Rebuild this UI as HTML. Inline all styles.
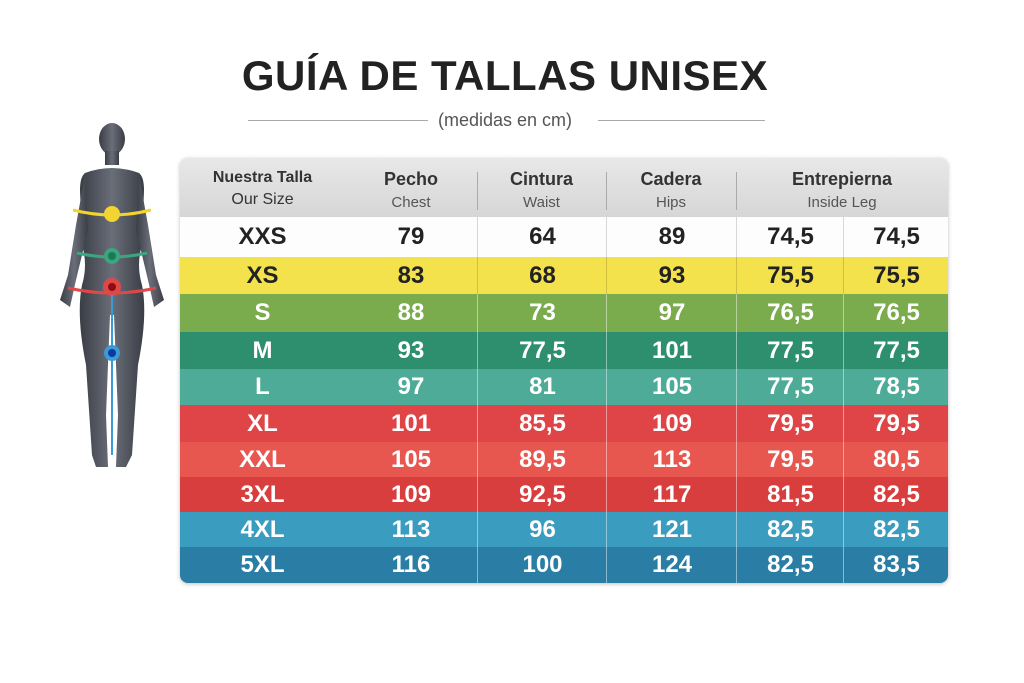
<!DOCTYPE html>
<html><head><meta charset="utf-8"><style>
body{margin:0;width:1024px;height:683px;background:#fff;position:relative;overflow:hidden;font-family:"Liberation Sans",sans-serif}
.title{position:absolute;left:0;width:1010px;top:52px;text-align:center;font-weight:bold;font-size:42px;color:#222;letter-spacing:0.5px}
.sub{position:absolute;left:0;width:1010px;top:110px;text-align:center;font-size:18px;color:#555}
.ln{position:absolute;top:120px;height:1px;background:#aaa}
.tbl{position:absolute;left:180px;top:158px;width:768px;height:425px;border-radius:8px;overflow:hidden;background:#ddd;box-shadow:0 1px 4px rgba(0,0,0,.25)}
.hd{position:absolute;top:0;left:0;width:768px;height:59px;background:linear-gradient(#e8e8e8,#d6d6d6)}
.h{position:absolute;text-align:center;color:#333}
.h b{display:block;font-size:18px;margin-top:11px}
.h span{display:block;font-size:15px;color:#555;margin-top:4px}
.vd{position:absolute;top:14px;height:38px;width:1px;background:#aaa}
.row{position:absolute;left:0;width:768px;font-weight:bold;font-size:24px;color:#fff}
.row div{position:absolute;top:0;text-align:center;height:100%;display:flex;align-items:center;justify-content:center}
.row .d{border-left:1px solid rgba(255,255,255,.45)}
.dk{color:#222}
.dk .d{border-left:1px solid rgba(0,0,0,.15)}
</style></head><body>
<div class="title">GUÍA DE TALLAS UNISEX</div>
<div class="ln" style="left:248px;width:180px"></div>
<div class="sub">(medidas en cm)</div>
<div class="ln" style="left:598px;width:167px"></div>

<svg style="position:absolute;left:40px;top:115px" width="150" height="370" viewBox="0 0 150 370">
<defs><linearGradient id="g" x1="0" x2="1"><stop offset="0" stop-color="#3a3d45"/><stop offset=".5" stop-color="#6a6e78"/><stop offset="1" stop-color="#3a3d45"/></linearGradient></defs>
<g fill="url(#g)">
<ellipse cx="72" cy="24" rx="13" ry="16"/>
<rect x="65" y="36" width="14" height="14"/>
<path d="M45 58 Q72 48 99 58 Q104 62 104 75 L102 130 Q96 150 102 170 Q108 200 98 250 L92 340 L86 352 L76 352 L78 300 L74 200 L70 200 L66 300 L68 352 L56 352 L52 340 L46 250 Q36 200 42 170 Q48 150 42 130 L40 75 Q40 62 45 58Z"/>
<path d="M45 60 L36 110 L28 160 L20 185 L30 192 L36 165 L48 115Z"/>
<path d="M99 60 L108 110 L116 160 L124 185 L114 192 L108 165 L96 115Z"/>
</g>
<path d="M33 95 Q72 105 111 95" stroke="#f2d530" stroke-width="3" fill="none"/>
<circle cx="72" cy="99" r="8" fill="#f2d530"/>
<path d="M37 138 Q72 146 107 138" stroke="#3aa57e" stroke-width="3" fill="none"/>
<circle cx="72" cy="141" r="8" fill="#3aa57e"/><circle cx="72" cy="141" r="4" fill="#1c7a52"/>
<path d="M28 173 Q72 183 116 173" stroke="#e04848" stroke-width="3" fill="none"/>
<circle cx="72" cy="172" r="9" fill="#e04848"/><circle cx="72" cy="172" r="4" fill="#8a0f15"/>
<line x1="72" y1="180" x2="72" y2="340" stroke="#3a9bd6" stroke-width="2"/>
<circle cx="72" cy="238" r="8" fill="#3a9bd6"/><circle cx="72" cy="238" r="4" fill="#0d3a9a"/>
</svg>

<div class="tbl">
<div class="hd">
<div class="h" style="left:0;width:165px"><b style="font-size:16px">Nuestra Talla</b><span style="color:#333;font-size:16px">Our Size</span></div>
<div class="h" style="left:165px;width:132px"><b>Pecho</b><span>Chest</span></div>
<div class="vd" style="left:297px"></div>
<div class="h" style="left:297px;width:129px"><b>Cintura</b><span>Waist</span></div>
<div class="vd" style="left:426px"></div>
<div class="h" style="left:426px;width:130px"><b>Cadera</b><span>Hips</span></div>
<div class="vd" style="left:556px"></div>
<div class="h" style="left:556px;width:212px"><b>Entrepierna</b><span>Inside Leg</span></div>
</div>
<div id="rows"></div>
</div>
<script>
var R=[["XXS","79","64","89","74,5","74,5","#fdfdfd",59,40,1],
["XS","83","68","93","75,5","75,5","#f4e24c",99,37,1],
["S","88","73","97","76,5","76,5","#7aab4c",136,38],
["M","93","77,5","101","77,5","77,5","#2d8f6d",174,37],
["L","97","81","105","77,5","78,5","#4dab98",211,36],
["XL","101","85,5","109","79,5","79,5","#df4446",247,37],
["XXL","105","89,5","113","79,5","80,5","#e8574f",284,35],
["3XL","109","92,5","117","81,5","82,5","#d83e3e",319,35],
["4XL","113","96","121","82,5","82,5","#3a9cbf",354,35],
["5XL","116","100","124","82,5","83,5","#2a7ea6",389,36]];
var C=[[0,165],[165,132],[297,129],[426,130],[556,107],[663,105]];
var h="";R.forEach(function(r){h+='<div class="row'+(r[9]?' dk':'')+'" style="top:'+r[7]+'px;height:'+r[8]+'px;background:'+r[6]+'">';
for(var i=0;i<6;i++)h+='<div class="'+(i>1?'d':'')+'" style="left:'+C[i][0]+'px;width:'+C[i][1]+'px">'+r[i]+'</div>';h+='</div>';});
document.getElementById("rows").innerHTML=h;
</script>
</body></html>
